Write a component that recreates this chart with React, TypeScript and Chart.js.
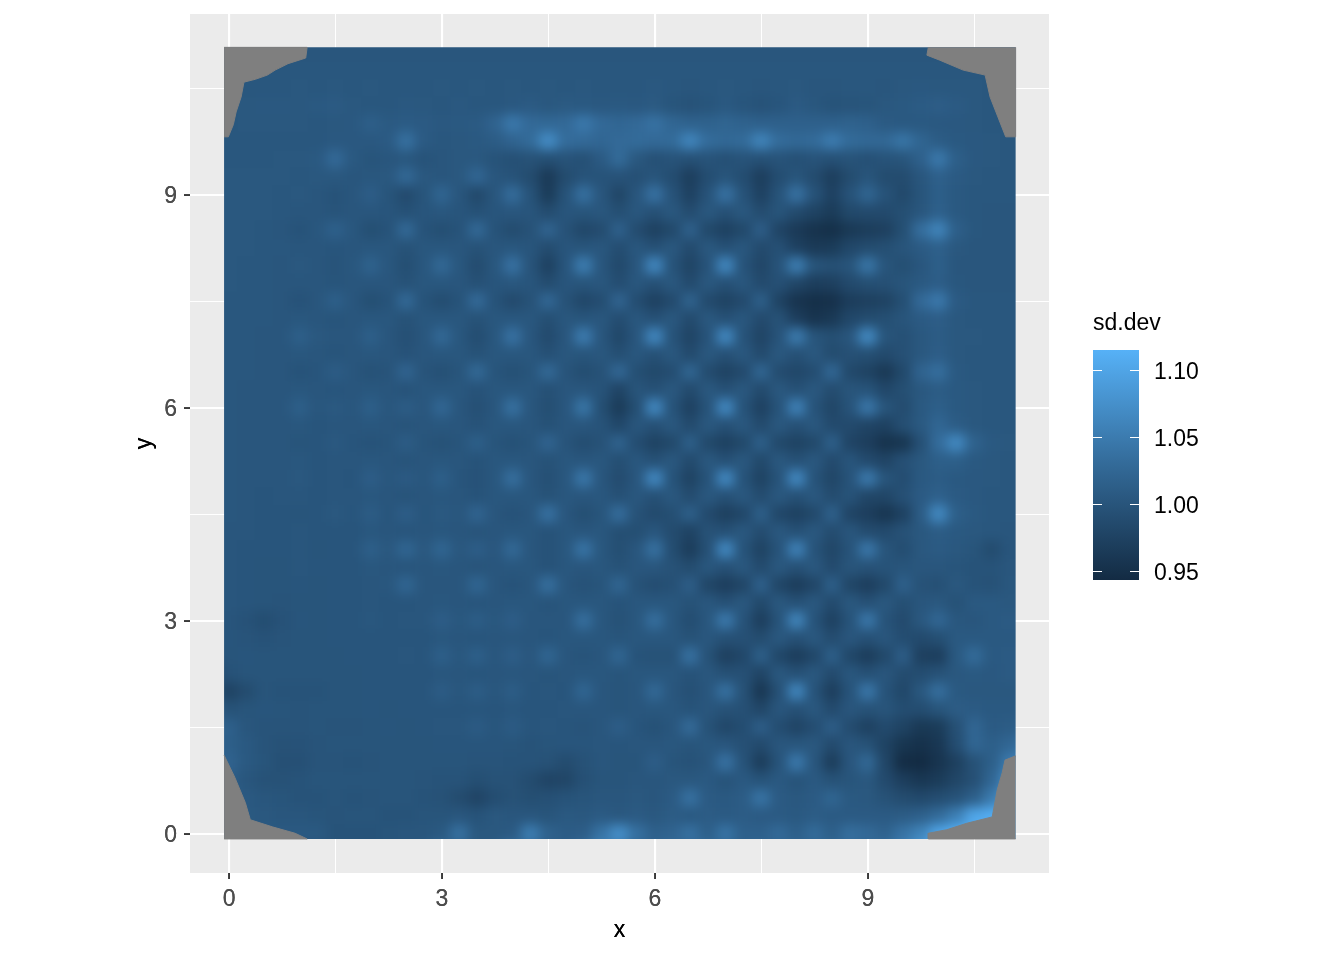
import React, { useEffect, useRef } from "react";
import { Chart, registerables } from "chart.js";

Chart.register(...registerables);

const gridX = [0,0.25,0.5,0.75,1,1.25,1.5,1.75,2,2.25,2.5,2.75,3,3.25,3.5,3.75,4,4.25,4.5,4.75,5,5.25,5.5,5.75,6,6.25,6.5,6.75,7,7.25,7.5,7.75,8,8.25,8.5,8.75,9,9.25,9.5,9.75,10,10.25,10.5,10.75,11];
const gridY = [11,10.75,10.5,10.25,10,9.75,9.5,9.25,9,8.75,8.5,8.25,8,7.75,7.5,7.25,7,6.75,6.5,6.25,6,5.75,5.5,5.25,5,4.75,4.5,4.25,4,3.75,3.5,3.25,3,2.75,2.5,2.25,2,1.75,1.5,1.25,1,0.75,0.5,0.25,0];

// sd.dev readings, as thousandths above 1.000; one row per gridY entry, one value per gridX entry
const sdDevRows = [
[2,2,2,2, 2,2,2,2, 2,2,2,2, 2,2,2,2, 2,2,2,2, 2,2,2,2, 2,2,2,2, 2,2,2,2, 2,2,2,2, 2,2,2,2, 2,2,2,2, 2],
[3,3,3,3, 3,3,3,3, 3,3,3,3, 3,3,3,3, 3,3,3,3, 3,3,3,3, 3,3,3,3, 3,3,3,3, 3,3,3,3, 3,3,3,3, 3,3,3,3, 3],
[3,3,3,3, 4,3,4,3, 4,3,3,3, 4,3,4,3, 4,3,4,3, 4,3,3,3, 5,3,2,3, 4,3,2,3, 4,2,2,3, 3,2,4,5, 4,4,4,3, 3],
[3,4,5,5, 4,6,8,4, 3,3,5,4, 3,5,3,3, 5,8,4,7, 6,5,6,5, 7,0,-3,0, 6,1,-3,1, 8,3,-2,-1, 0,4,6,9, 12,8,4,3, 3],
[3,4,4,4, 4,3,4,5, 14,7,9,8, 5,6,8,20, 46,28,26,28, 46,28,24,28, 38,24,18,18, 22,18,16,16, 16,16,16,18, 16,8,6,6, 5,5,4,3, 3],
[3,3,3,3, 3,3,5,5, 5,8,36,8, 3,4,6,10, 20,30,70,32, 28,24,28,30, 28,30,62,32, 26,30,60,32, 26,30,50,30, 26,26,42,22, 10,6,5,4, 3],
[3,3,3,4, 4,6,28,6, 0,2,3,-2, 2,4,4,-2, -6,-4,-8,-2, -6,8,30,4, -6,-2,-6,-2, -6,-2,-6,-2, -6,-2,-6,-2, -6,-2,0,16, 46,14,5,4, 3],
[4,4,4,4, 3,4,4,2, 3,4,26,4, 2,4,24,2, -2,-12,-36,-12, -2,-2,-3,-6, 0,-10,-30,-10, 0,-10,-30,-10, 0,-12,-30,-12, 0,-12,-12,2, 16,8,4,3, 3],
[4,4,4,3, 4,2,-2,2, 12,0,-14,0, 22,2,-16,2, 32,-2,-34,-2, 36,2,-20,2, 38,-2,-26,-2, 38,-2,-26,-2, 38,-2,-26,-2, 22,-2,-16,0, 14,6,3,3, 3],
[4,4,4,3, 2,2,-1,2, 2,1,-5,1, 3,1,-5,1, 2,1,-12,1, 0,3,-8,3, -6,4,-12,4, -6,4,-12,0, -14,-24,-34,-16, -14,-14,-8,2, 16,6,3,2, 2],
[4,4,3,2, -2,3,16,3, -8,-2,26,-2, -8,-2,26,-2, -12,-4,20,-4, -18,-12,16,-12, -26,-16,16,-16, -26,-16,12,-22, -36,-46,-50,-38, -32,-28,-8,34, 60,14,3,2, 2],
[4,4,3,3, 2,2,1,2, 3,3,-4,3, 3,2,-4,2, 3,1,-12,1, 0,3,-10,3, -6,4,-14,4, -6,3,-14,-6, -26,-36,-34,-18, -12,-8,0,8, 16,4,2,2, 2],
[4,3,3,2, 4,2,-1,3, 18,3,-8,3, 26,3,-12,3, 38,-1,-26,1, 52,2,-16,2, 64,-2,-22,-2, 64,-2,-20,-2, 52,0,-6,0, 42,0,-8,2, 14,2,2,2, 2],
[4,3,3,2, 2,2,0,2, 2,2,-4,3, 3,2,-6,1, 3,1,-12,1, 0,3,-10,3, -6,4,-14,4, -6,3,-14,-6, -20,-30,-28,-14, -8,-6,0,6, 12,3,2,2, 2],
[3,3,3,2, -3,2,14,2, -8,-2,26,-2, -10,-2,28,-2, -14,-4,24,-4, -18,-10,20,-10, -26,-14,18,-14, -24,-14,14,-24, -44,-50,-48,-32, -28,-24,-8,28, 46,8,3,3, 3],
[3,3,3,2, 3,2,0,2, 3,3,-4,3, 3,3,-4,3, 3,3,-8,3, 0,3,-10,3, -6,4,-14,4, -6,3,-14,-4, -30,-44,-38,-18, -12,-8,0,8, 12,4,3,3, 3],
[3,3,2,2, 14,4,2,2, 14,2,-6,2, 26,3,-10,3, 38,2,-14,2, 50,2,-18,2, 64,-2,-22,-2, 64,-2,-22,-2, 48,0,-8,2, 66,0,-6,4, 10,4,4,3, 3],
[3,3,2,2, 3,2,0,2, 3,2,-3,2, 3,3,-4,3, 3,3,-6,3, 0,3,-8,3, -6,4,-14,4, -6,4,-14,4, -6,4,-12,-6, -8,-14,-6,4, 12,4,3,3, 3],
[3,3,2,2, -2,1,10,2, -4,-1,20,-1, -6,0,26,0, -6,0,26,-1, -10,-4,24,-8, -16,-10,22,-12, -24,-14,22,-12, -18,-10,24,-16, -24,-38,-16,20, 34,6,3,3, 3],
[3,2,2,2, 3,2,1,2, 3,2,-2,3, 3,3,-3,3, 3,3,-6,2, 2,-2,-22,0, -6,4,-14,4, -6,4,-14,4, -6,4,-12,0, -2,-18,-8,4, 10,6,4,3, 3],
[3,2,2,2, 14,2,6,2, 14,2,10,2, 24,2,-6,2, 36,2,-8,2, 42,-8,-34,-8, 64,-2,-26,-2, 64,-2,-26,-2, 56,-2,-20,-2, 44,0,-12,6, 14,6,4,3, 3],
[3,2,2,2, 3,1,2,2, 3,2,-1,2, 3,2,-3,3, 3,2,-5,2, 2,-2,-18,2, -6,4,-14,4, -6,4,-14,4, -6,4,-14,-14, -22,-26,-8,6, 24,10,4,3, 3],
[3,2,2,2, 0,1,5,1, -2,0,10,0, -4,0,14,0, -5,0,20,-1, -10,-4,18,-10, -24,-16,14,-16, -26,-16,14,-16, -24,-16,14,-22, -30,-46,-42,-6, 32,66,18,6, 4],
[3,2,2,2, 3,1,2,2, 3,2,-1,2, 3,2,-2,3, 3,2,-4,3, 2,3,-8,3, -6,4,-14,4, -6,4,-16,4, -6,4,-14,1, -14,-22,-6,4, 14,14,6,4, 3],
[3,2,2,2, 4,1,2,1, 12,2,8,2, 14,1,-3,3, 34,2,-6,3, 44,2,-12,2, 64,-2,-24,-2, 64,-2,-24,-2, 64,-2,-20,-2, 46,0,-10,6, 10,6,5,4, 3],
[3,2,1,2, 2,1,2,2, 3,2,-1,2, 3,2,-2,3, 3,3,-4,3, 2,3,-6,3, -6,4,-12,4, -6,4,-12,4, -6,4,-12,-2, -20,-20,-6,8, 16,8,5,3, 3],
[3,2,1,1, 0,1,4,1, 10,1,12,1, 6,2,20,2, -3,2,36,2, -8,0,32,-4, -14,-8,14,-14, -28,-18,14,-18, -26,-16,16,-22, -30,-42,-26,10, 66,14,6,3, 3],
[2,2,1,1, 2,1,1,1, 3,2,1,2, 3,2,-1,2, 3,3,-3,3, 2,3,-8,-8, 2,-12,-24,-4, -6,4,-12,4, -6,4,-12,2, -12,-14,-4,4, 10,6,4,3, 2],
[2,1,1,1, 2,0,1,1, 14,4,22,4, 22,3,12,2, 26,2,-3,3, 40,3,-8,2, 36,-10,-32,-6, 64,-2,-24,-2, 56,-2,-20,-2, 44,0,-10,4, 8,4,0,-12, 1],
[2,1,0,0, 2,1,1,1, 3,2,1,2, 3,2,-1,2, 3,3,-3,3, 2,3,-4,2, 2,-4,-12,3, -6,4,-14,4, -6,4,-14,0, -4,-2,0,2, 2,0,-2,-2, 2],
[2,1,0,0, 1,0,1,1, 2,3,22,2, 2,2,22,2, -2,2,34,2, -4,0,22,-4, -10,-6,12,-20, -30,-20,16,-20, -32,-20,14,-20, -30,-16,16,-4, -6,4,-2,-4, 3],
[2,1,0,-1, 0,0,1,1, 2,1,1,2, 3,2,1,2, 3,3,-1,3, 3,3,-2,3, 3,3,-4,3, -6,4,-16,4, -6,4,-14,4, -6,4,-8,2, 4,-4,6,6, 4],
[1,-3,-10,-3, 1,0,1,1, 3,1,2,2, 12,3,11,3, 12,2,2,2, 34,3,-4,3, 34,3,-10,3, 46,-2,-30,-2, 60,-2,-26,-2, 44,-2,-14,4, 24,3,2,6, 8],
[1,-1,-3,-1, 0,0,1,1, 1,1,1,1, 3,2,1,2, 2,2,1,3, 3,3,0,3, 3,3,-4,3, -6,-6,-12,4, -6,4,-12,2, -6,2,-10,-14, -8,6,6,6, 6],
[0,1,0,0, 0,0,0,1, 1,1,2,1, 14,3,14,2, 12,2,22,2, -1,2,22,-2, -4,-4,36,-4, -28,-18,14,-18, -32,-18,14,-18, -32,-16,12,-28, -30,6,30,6, 8],
[-3,0,0,0, 0,0,0,0, 1,1,1,1, 2,2,1,2, 2,2,0,2, 3,3,0,3, 3,3,-3,3, -6,-6,-22,4, -6,4,-14,3, -6,2,-12,-10, -4,4,6,5, 8],
[-24,-12,0,-2, -2,-2,0,0, 1,1,1,1, 10,2,11,2, 11,1,2,1, 22,2,0,2, 26,2,-6,2, 36,-4,-40,-6, 62,-2,-30,-2, 44,-2,-18,4, 34,6,4,4, 4],
[-4,0,1,0, -1,0,0,0, 1,0,1,1, 1,1,1,1, 2,1,1,2, 2,2,0,2, 3,3,-2,2, -4,-6,-20,2, -6,4,-14,2, -4,0,-10,-10, 0,10,8,6, 6],
[16,2,-1,-1, -1,0,-1,-1, 0,1,0,1, 2,2,9,1, 9,1,2,1, -1,2,12,1, -5,2,28,-4, -18,-10,12,-10, -22,-10,12,-12, -26,-14,-24,-38, -34,-6,24,8, 10],
[14,6,-1,-4, -3,-1,0,0, 0,0,0,0, 1,1,1,1, 0,-2,0,1, 1,2,1,2, 2,3,0,3, 2,-6,-14,2, 2,4,-14,2, -4,-24,-42,-48, -40,-10,24,14, 24],
[20,6,0,-6, -6,-1,-1,-2, -1,0,0,0, 0,0,-1,-1, -2,-2,-4,-12, -4,2,0,0, 12,0,-4,2, 38,-2,-32,-2, 46,2,-32,2, 26,-20,-54,-58, -44,-28,-4,14, 50],
[12,2,-4,-4, -2,0,0,0, 0,0,0,-1, -2,-2,-8,-4, -4,-12,-22,-20, -6,0,0,2, 2,4,4,6, -2,6,-2,6, -2,6,-4,0, 4,-14,-30,-40, -34,-20,-6,24, 72],
[12,6,2,0, -2,-2,0,-2, -1,0,0,-2, -4,-12,-22,-10, -4,-8,-6,-2, 0,2,2,4, 2,8,36,8, 6,10,40,8, 4,8,22,6, 4,-4,-12,-16, -10,-2,14,48, 100],
[8,6,4,2, 2,0,-1,0, 0,-2,-2,0, 0,2,-2,4, 2,2,0,6, 4,8,4,8, 4,10,6,10, 8,10,8,8, 6,10,8,8, 8,8,10,16, 30,54,100,110, 110],
[6,6,6,6, 6,6,-2,-2, -2,0,2,2, 6,36,4,4, 8,52,18,10, 12,40,72,36, 16,20,36,14, 40,16,16,28, 14,30,14,34, 28,18,40,60, 100,115,120,120, 120],
];

// missing (NA) corners of the surface
const cornerTopLeftX = [-0.07,1.1,1.08,0.83,0.65,0.54,0.37,0.21,0.17,0.1,0.06,-0.01,-0.07];
const cornerTopLeftY = [11.08,11.08,10.93,10.85,10.76,10.69,10.63,10.59,10.38,10.17,9.99,9.82,9.82];
const cornerTopRightX = [9.85,9.83,10.01,10.34,10.65,10.72,10.83,10.94,11.08,11.08];
const cornerTopRightY = [11.08,10.97,10.9,10.76,10.69,10.38,10.1,9.82,9.82,11.08];
const cornerBottomLeftX = [-0.07,0.08,0.23,0.3,0.61,0.93,1.1,-0.07];
const cornerBottomLeftY = [1.11,0.8,0.44,0.2,0.1,0.01,-0.07,-0.07];
const cornerBottomRightX = [11.08,10.93,10.89,10.82,10.75,10.39,10.11,9.85,9.85,11.08];
const cornerBottomRightY = [1.1,1.04,0.86,0.62,0.24,0.15,0.06,0.01,-0.07,-0.07];

const axisTicks = [0, 1.5, 3, 4.5, 6, 7.5, 9, 10.5];
const axisLabels = ["0", "", "3", "", "6", "", "9", ""];
const legendBreaks = [0.95, 1.0, 1.05, 1.1];
const legendLabels = ["0.95", "1.00", "1.05", "1.10"];
const legendLimits = [0.9435, 1.1148];
const rampStops = ["#132B43", "#336A98", "#56B1F7"];

const FONT = "'Liberation Sans', Arial, sans-serif";
const tileBounds = { xMin: -0.07, xMax: 11.08, yMin: -0.07, yMax: 11.08 };

function hexToRgb(h: string) {
  return [1, 3, 5].map((i) => parseInt(h.slice(i, i + 2), 16));
}
function ramp(v: number) {
  const t = Math.min(1, Math.max(0, (v - legendLimits[0]) / (legendLimits[1] - legendLimits[0])));
  const a = hexToRgb(t < 0.5 ? rampStops[0] : rampStops[1]);
  const b = hexToRgb(t < 0.5 ? rampStops[1] : rampStops[2]);
  const u = t < 0.5 ? t * 2 : (t - 0.5) * 2;
  const c = a.map((p, i) => Math.round(p + (b[i] - p) * u));
  return `rgb(${c[0]},${c[1]},${c[2]})`;
}

function cornerDataset(xs: number[], ys: number[]) {
  return {
    type: "scatter",
    label: "NA",
    data: xs.map((x, i) => ({ x, y: ys[i] })),
    showLine: true,
    fill: "shape",
    backgroundColor: "#7f7f7f",
    borderColor: "#7f7f7f",
    borderWidth: 1,
    pointRadius: 0,
    tension: 0,
    order: 1,
  };
}

function heatPoints() {
  const pts: { x: number; y: number; v: number; pad: boolean }[] = [];
  const pads: { x: number; y: number; v: number; pad: boolean }[] = [];
  sdDevRows.forEach((row, j) =>
    row.forEach((m, i) => {
      const p = { x: gridX[i], y: gridY[j], v: 1 + m / 1000, pad: false };
      pts.push(p);
      if (i === 0 || j === 0 || i === gridX.length - 1 || j === gridY.length - 1) pads.push({ ...p, pad: true });
    })
  );
  return [...pads, ...pts];
}

const BLUR = 6;

function makeHeatPlugin() {
  let under: HTMLCanvasElement | null = null;
  const snap = (c: HTMLCanvasElement) => {
    const o = document.createElement("canvas");
    o.width = c.width;
    o.height = c.height;
    o.getContext("2d")!.drawImage(c, 0, 0);
    return o;
  };
  return {
    id: "heatSmooth",
    beforeDatasetDraw(chart: any, args: any) {
      if (args.index === 0) under = snap(chart.canvas);
    },
    afterDatasetDraw(chart: any, args: any) {
      if (args.index !== 0 || !under) return;
      const hot = snap(chart.canvas);
      const ctx = chart.ctx;
      const { x, y } = chart.scales;
      ctx.save();
      ctx.drawImage(under, 0, 0);
      ctx.beginPath();
      const l = x.getPixelForValue(tileBounds.xMin);
      const r = x.getPixelForValue(tileBounds.xMax);
      const t = y.getPixelForValue(tileBounds.yMax);
      const b = y.getPixelForValue(tileBounds.yMin);
      ctx.rect(l, t, r - l, b - t);
      ctx.clip();
      ctx.filter = `blur(${BLUR}px)`;
      ctx.drawImage(hot, 0, 0);
      ctx.filter = "none";
      ctx.restore();
    },
  };
}

const panelPlugin = {
  id: "panelBg",
  beforeDraw(chart: any) {
    const { ctx, chartArea: a } = chart;
    ctx.save();
    ctx.fillStyle = "#EBEBEB";
    ctx.fillRect(a.left, a.top, a.right - a.left, a.bottom - a.top);
    ctx.restore();
  },
};

const legendPlugin = {
  id: "colourbar",
  afterDraw(chart: any) {
    const ctx = chart.ctx;
    const L = 1093, W = 46, T = 350, B = 580;
    const yOf = (v: number) => B - ((v - legendLimits[0]) / (legendLimits[1] - legendLimits[0])) * (B - T);
    ctx.save();
    const g = ctx.createLinearGradient(0, B, 0, T);
    rampStops.forEach((c, i) => g.addColorStop(i / (rampStops.length - 1), c));
    ctx.fillStyle = g;
    ctx.fillRect(L, T, W, B - T);
    ctx.strokeStyle = "#ffffff";
    ctx.lineWidth = 1;
    ctx.font = `23px ${FONT}`;
    ctx.textBaseline = "middle";
    ctx.textAlign = "left";
    legendBreaks.forEach((v, i) => {
      const y = Math.round(yOf(v)) + 0.5;
      ctx.beginPath();
      ctx.moveTo(L, y);
      ctx.lineTo(L + 9, y);
      ctx.moveTo(L + W - 9, y);
      ctx.lineTo(L + W, y);
      ctx.stroke();
      ctx.fillStyle = "#000000";
      ctx.fillText(legendLabels[i], 1154, y + 2);
    });
    ctx.fillStyle = "#000000";
    ctx.fillText("sd.dev", 1093, 324);
    ctx.restore();
  },
};

function axisOptions(titleText: string, isX: boolean) {
  return {
    type: "linear",
    min: -0.55,
    max: 11.55,
    border: { display: false },
    afterBuildTicks(scale: any) {
      scale.ticks = axisTicks.map((value) => ({ value }));
    },
    afterFit(scale: any) {
      if (isX) scale.height = 87;
      else scale.width = 190;
      scale.paddingTop = 0;
      scale.paddingBottom = 0;
      scale.paddingLeft = 0;
      scale.paddingRight = 0;
    },
    grid: {
      color: "#ffffff",
      lineWidth: (c: any) => (axisTicks.indexOf(c.tick?.value) % 2 === 0 ? 2.1 : 1),
      tickColor: (c: any) => (axisTicks.indexOf(c.tick?.value) % 2 === 0 ? "#333333" : "rgba(0,0,0,0)"),
      tickWidth: 1.5,
      tickLength: 6,
      drawTicks: true,
    },
    ticks: {
      autoSkip: false,
      maxRotation: 0,
      minRotation: 0,
      padding: 7,
      labelOffset: isX ? 0 : 2,
      color: "#4D4D4D",
      font: { family: FONT, size: 23 },
      callback: (v: number) => axisLabels[axisTicks.indexOf(v)] ?? "",
    },
    title: {
      display: true,
      text: titleText,
      color: "#000000",
      font: { family: FONT, size: 23 },
      padding: isX ? { top: 0, bottom: 16 } : { top: 131, bottom: 0 },
    },
  };
}

export default function App() {
  const ref = useRef<HTMLCanvasElement>(null);
  useEffect(() => {
    const chart = new Chart(ref.current!, {
      type: "scatter",
      data: {
        datasets: [
          {
            label: "sd.dev",
            data: heatPoints(),
            pointStyle: "rect",
            pointBorderWidth: 0,
            pointRadius: (c: any) => (c.raw?.pad ? 42 : 13.4),
            pointBackgroundColor: (c: any) => ramp(c.raw?.v ?? 1),
            order: 10,
          },
          cornerDataset(cornerTopLeftX, cornerTopLeftY),
          cornerDataset(cornerTopRightX, cornerTopRightY),
          cornerDataset(cornerBottomLeftX, cornerBottomLeftY),
          cornerDataset(cornerBottomRightX, cornerBottomRightY),
        ],
      } as any,
      options: {
        responsive: false,
        animation: false,
        devicePixelRatio: 1,
        events: [],
        layout: { autoPadding: false, padding: { left: 0, top: 14, right: 295, bottom: 0 } },
        plugins: {
          legend: { display: false },
          tooltip: { enabled: false },
        },
        scales: { x: axisOptions("x", true), y: axisOptions("y", false) },
      } as any,
      plugins: [panelPlugin, makeHeatPlugin(), legendPlugin],
    } as any);
    return () => chart.destroy();
  }, []);
  return (
    <div style={{ position: "absolute", left: 0, top: 0, width: 1344, height: 960, background: "#ffffff" }}>
      <canvas ref={ref} width={1344} height={960} style={{ display: "block" }} />
    </div>
  );
}
